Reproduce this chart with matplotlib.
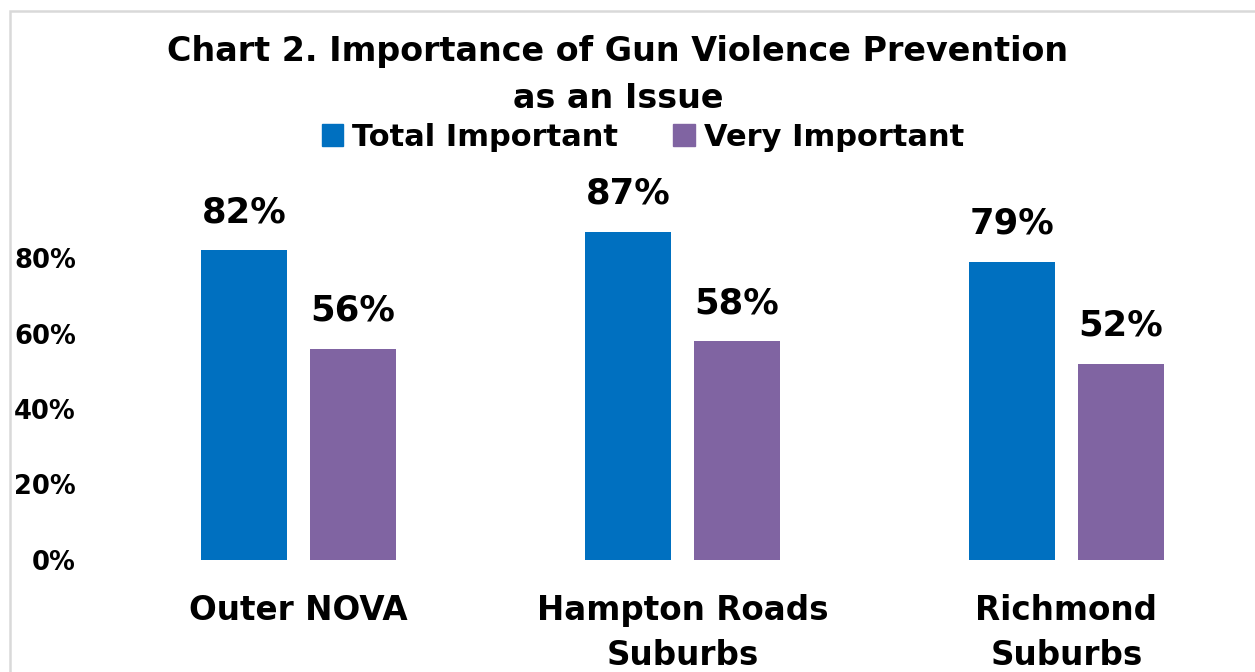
import matplotlib
matplotlib.use("Agg")
import matplotlib.pyplot as plt
from matplotlib.patches import Patch, Rectangle
import numpy as np

categories = ["Outer NOVA", "Hampton Roads\nSuburbs", "Richmond\nSuburbs"]
series_names = ["Total Important", "Very Important"]
total_important = [82, 87, 79]
very_important = [56, 58, 52]
ytick_values = [0, 20, 40, 60, 80]
ytick_labels = ["0%", "20%", "40%", "60%", "80%"]
title = "Chart 2. Importance of Gun Violence Prevention\nas an Issue"

colors = ["#0070C0", "#8064A2"]
FONT = "DejaVu Sans"
plt.rcParams["font.family"] = [FONT]
plt.rcParams["font.weight"] = "bold"

W, H = 1255, 672
fig = plt.figure(figsize=(W / 100, H / 100), dpi=100)

# axes in pixel coords: left 106.5, right 1250, y0 at 560, 100% at 182.5
left_px, right_px = 106.5, 1250
bottom_px, top_px = 560, 182.5
ax = fig.add_axes([left_px / W, 1 - bottom_px / H, (right_px - left_px) / W, (bottom_px - top_px) / H])

x = np.arange(len(categories))
bw = 0.224
off = 0.142
b1 = ax.bar(x - off, total_important, bw, color=colors[0], label=series_names[0])
b2 = ax.bar(x + off, very_important, bw, color=colors[1], label=series_names[1])

for bars, vals in ((b1, total_important), (b2, very_important)):
    for r, v in zip(bars, vals):
        ax.annotate(f"{v}%", (r.get_x() + r.get_width() / 2, v), xytext=(0, 15),
                    textcoords="offset points", ha="center", va="bottom",
                    fontsize=25.5, fontweight="bold", color="black")

ax.set_xlim(-0.5, (right_px - 298.5) / 384 - 0.0)
ax.set_ylim(0, 100)
ax.set_yticks(ytick_values)
ax.set_yticklabels(ytick_labels, fontsize=18.5, fontweight="bold")
ax.set_xticks(x)
ax.set_xticklabels(categories, fontsize=23.5, fontweight="bold", linespacing=1.45)
ax.tick_params(axis="y", length=0, pad=22)
ax.tick_params(axis="x", length=0, pad=24.5)
for s in ax.spines.values():
    s.set_visible(False)

fig.text(618 / W, 1 - 75 / H, title, ha="center", va="center", fontsize=24,
         fontweight="bold", linespacing=1.55)

handles = [Patch(color=c) for c in colors]
fig.legend(handles, series_names, loc="center", bbox_to_anchor=(643 / W, 1 - 137 / H),
           ncol=2, frameon=False, handlelength=0.7, handleheight=0.7,
           handletextpad=0.3, columnspacing=1.8, prop={"weight": "bold", "size": 22})

fig.patches.append(Rectangle((9.5 / W, -0.1), 1.2, (1 - 10.5 / H) + 0.1, transform=fig.transFigure,
                             fill=False, edgecolor="#d9d9d9", linewidth=1.8))

fig.savefig("out.png", dpi=100)
